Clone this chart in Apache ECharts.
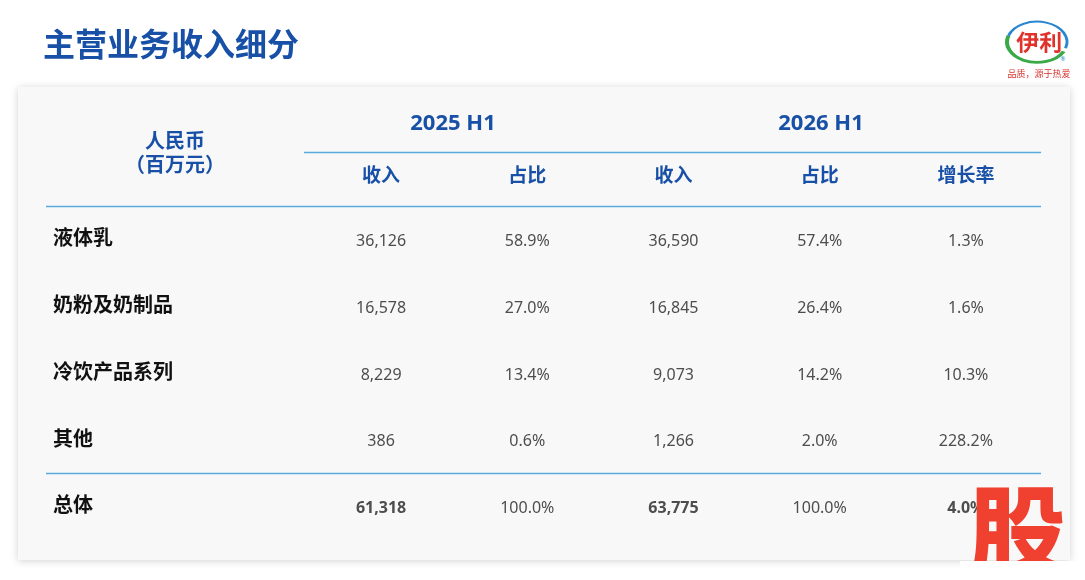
<!DOCTYPE html>
<html>
<head>
<meta charset="utf-8">
<script src="https://cdn.jsdelivr.net/npm/echarts@6/dist/echarts.min.js"></script>
<style>
html,body{margin:0;padding:0;background:#fff;}
#main{width:1085px;height:580px;}
</style>
</head>
<body>
<div id="main"></div>
<script>
var rowNames = ['液体乳', '奶粉及奶制品', '冷饮产品系列', '其他', '总体'];
var colNames = ['收入', '占比', '收入', '占比', '增长率'];
var periods = ['2025 H1', '2026 H1'];
var rev2025 = [36126, 16578, 8229, 386, 61318];
var share2025 = [58.9, 27.0, 13.4, 0.6, 100.0];
var rev2026 = [36590, 16845, 9073, 1266, 63775];
var share2026 = [57.4, 26.4, 14.2, 2.0, 100.0];
var growth = [1.3, 1.6, 10.3, 228.2, 4.0];

var FONT = '"Noto Sans", "Noto Sans CJK SC", sans-serif';
var BLUE = '#1750a6';
var LINE = '#5aaae0';

function fmtNum(v){ return v.toLocaleString('en-US'); }
function fmtPct(v){ return v.toFixed(1) + '%'; }

var columns = [
    {vals: rev2025, fmt: fmtNum, boldTotal: true},
    {vals: share2025, fmt: fmtPct, boldTotal: false},
    {vals: rev2026, fmt: fmtNum, boldTotal: true},
    {vals: share2026, fmt: fmtPct, boldTotal: false},
    {vals: growth, fmt: fmtPct, boldTotal: true}
];

function buildSeries(){
    var out = [];
    columns.forEach(function(col, c){
        var data = col.vals.map(function(v, r){
            var isTotal = r === rowNames.length - 1;
            return {
                value: [c, r],
                label: {
                    formatter: col.fmt(v),
                    fontWeight: (isTotal && col.boldTotal) ? 'bold' : 'normal'
                }
            };
        });
        out.push({
            type: 'scatter',
            symbolSize: 1,
            itemStyle: {color: 'transparent'},
            silent: true,
            label: {
                show: true,
                position: 'inside',
                offset: [0, 2],
                color: '#222',
                fontSize: 16,
                fontFamily: FONT
            },
            data: data
        });
    });
    return out;
}

var chart = echarts.init(document.getElementById('main'), null, {renderer: 'canvas'});
var option = {
    backgroundColor: '#fff',
    animation: false,
    grid: {left: 308, right: 46, top: 206, bottom: 40},
    xAxis: {
        type: 'category',
        position: 'top',
        data: colNames,
        axisLine: {show: false},
        axisTick: {show: false},
        splitLine: {show: false},
        axisLabel: {
            interval: 0,
            margin: 29,
            verticalAlign: 'middle',
            color: BLUE,
            fontSize: 19,
            fontWeight: 'bold',
            fontFamily: FONT
        }
    },
    yAxis: {
        type: 'category',
        inverse: true,
        data: rowNames,
        axisLine: {show: false},
        axisTick: {show: false},
        splitLine: {show: false},
        axisLabel: {
            interval: 0,
            align: 'left',
            margin: 255,
            color: '#111',
            fontSize: 20,
            fontWeight: 'bold',
            fontFamily: FONT
        }
    },
    series: buildSeries(),
    graphic: [
        // card
        {type: 'rect', z: -10, shape: {x: 18, y: 87, width: 1052, height: 473},
            style: {fill: '#f8f8f8', shadowBlur: 8, shadowColor: 'rgba(0,0,0,0.18)', shadowOffsetY: 1}},
        // title
        {type: 'text', left: 43, top: 31, style: {text: '主营业务收入细分', fill: BLUE,
            font: 'bold 32px ' + FONT}},
        // corner header
        {type: 'text', x: 175, y: 142, style: {text: '人民币', fill: BLUE, align: 'center', verticalAlign: 'middle',
            font: 'bold 20px ' + FONT}},
        {type: 'text', x: 175, y: 166, style: {text: '（百万元）', fill: BLUE, align: 'center', verticalAlign: 'middle',
            font: 'bold 20px ' + FONT}},
        // period headers
        {type: 'text', x: 453, y: 124, style: {text: periods[0], fill: BLUE, align: 'center', verticalAlign: 'middle',
            font: 'bold 22px ' + FONT}},
        {type: 'text', x: 821, y: 124, style: {text: periods[1], fill: BLUE, align: 'center', verticalAlign: 'middle',
            font: 'bold 22px ' + FONT}},
        // rules
        {type: 'line', shape: {x1: 304, y1: 152.5, x2: 1041, y2: 152.5}, style: {stroke: LINE, lineWidth: 1.5}},
        {type: 'line', shape: {x1: 46, y1: 206.5, x2: 1041, y2: 206.5}, style: {stroke: LINE, lineWidth: 1.5}},
        {type: 'line', shape: {x1: 46, y1: 473.5, x2: 1041, y2: 473.5}, style: {stroke: LINE, lineWidth: 1.5}},
        // logo
        {type: 'group', x: 1037, y: 42, scaleY: 0.68, children: [
            {type: 'circle', shape: {cx: 0, cy: 0, r: 31}, style: {fill: '#fff'}},
            {type: 'arc', shape: {cx: 0, cy: 0, r: 30, startAngle: Math.PI * 0.15, endAngle: Math.PI * 1.1},
                style: {stroke: '#3aa947', lineWidth: 4, fill: null}},
            {type: 'arc', shape: {cx: 0, cy: 0, r: 30, startAngle: Math.PI * 1.1, endAngle: Math.PI * 2.1},
                style: {stroke: '#2a86d0', lineWidth: 3, fill: null}}
        ]},
        {type: 'text', x: 1037, y: 42, skewX: 0.25, style: {text: '伊利', fill: '#e0322b', align: 'center', verticalAlign: 'middle',
            font: 'italic bold 23px "Noto Sans CJK SC", sans-serif'}},
        {type: 'text', x: 1063, y: 59, style: {text: '®', fill: '#2a86d0', align: 'center', verticalAlign: 'middle',
            font: '6px ' + FONT}},
        {type: 'text', x: 1039, y: 74, style: {text: '品质，源于热爱', fill: '#d8322b', align: 'center', verticalAlign: 'middle',
            font: '9px "Noto Sans CJK SC", sans-serif'}},
        // red stamp at bottom right
        {type: 'text', x: 1018, y: 530, z: 50, style: {text: '股', fill: '#ef4030', align: 'center', verticalAlign: 'middle',
            font: '900 96px "Noto Sans CJK SC", sans-serif'}},
        {type: 'rect', z: 51, shape: {x: 960, y: 561, width: 125, height: 20}, style: {fill: '#fff'}}
    ]
};
chart.setOption(option);
</script>
</body>
</html>
